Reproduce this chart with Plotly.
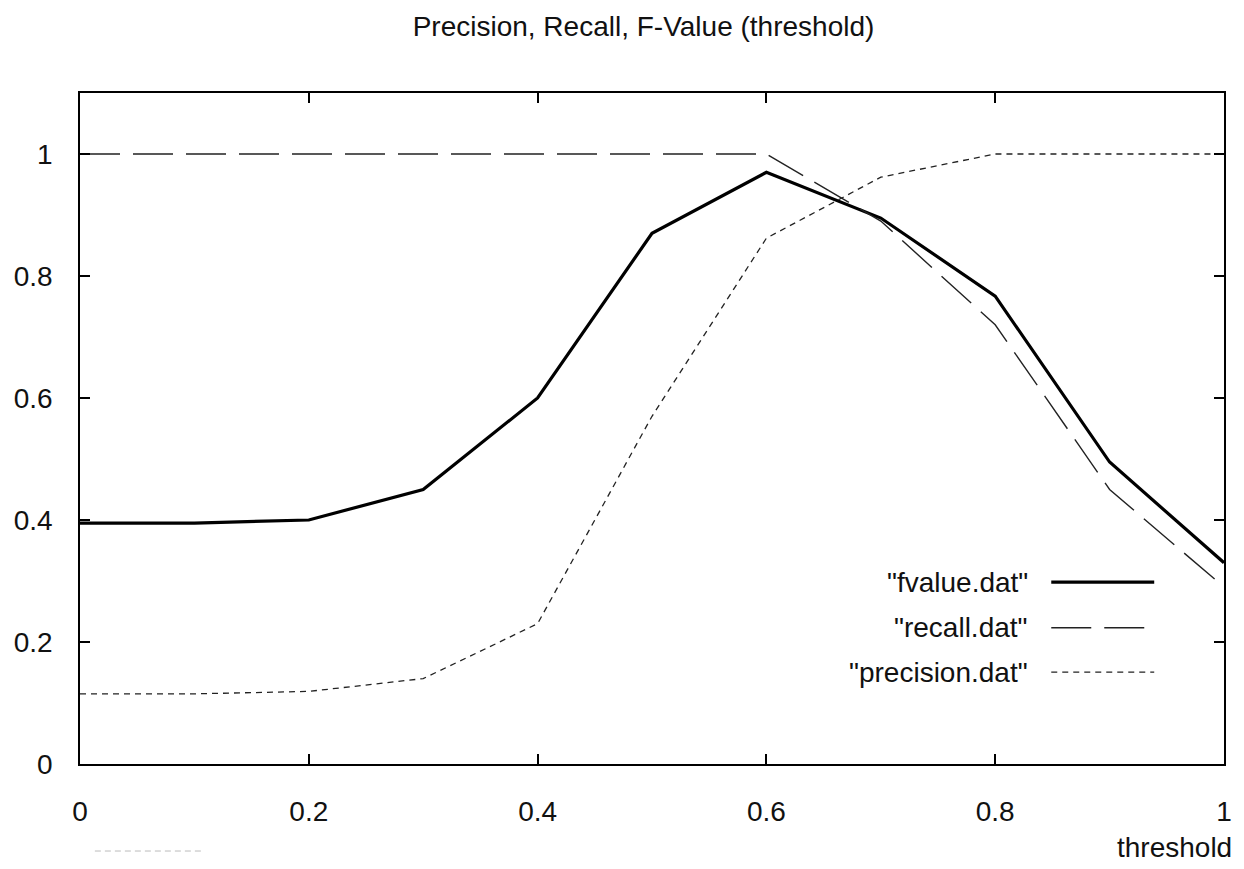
import plotly.graph_objects as go

threshold = [0.0, 0.1, 0.2, 0.3, 0.4, 0.5, 0.6, 0.7, 0.8, 0.9, 1.0]
fvalue = [0.395, 0.395, 0.40, 0.45, 0.60, 0.87, 0.97, 0.895, 0.767, 0.495, 0.33]
recall = [1.0, 1.0, 1.0, 1.0, 1.0, 1.0, 1.0, 0.89, 0.72, 0.45, 0.29]
precision = [0.115, 0.115, 0.119, 0.14, 0.23, 0.57, 0.862, 0.962, 1.0, 1.0, 1.0]

series_names = ['"fvalue.dat"', '"recall.dat"', '"precision.dat"']
x_ticks = [0, 0.2, 0.4, 0.6, 0.8, 1]
y_ticks = [0, 0.2, 0.4, 0.6, 0.8, 1]

FONT = "Liberation Sans, Arial, sans-serif"
FS = 28

styles = [
    dict(color="black", width=3.2, dash="solid"),
    dict(color="#222222", width=1.4, dash="40px,13px"),
    dict(color="#222222", width=1.3, dash="6px,5px"),
]

fig = go.Figure()
for name, ys, st in zip(series_names, [fvalue, recall, precision], styles):
    fig.add_trace(go.Scatter(x=threshold, y=ys, mode="lines", name=name,
                             line=st, showlegend=False))

# manual gnuplot-style legend (text right-aligned, sample to the right)
legend_rows = [0.271, 0.203, 0.137]
for name, yy, st in zip(series_names, legend_rows, styles):
    fig.add_annotation(x=0.830, y=yy, xref="paper", yref="paper", text=name,
                       showarrow=False, xanchor="right", yanchor="middle",
                       font=dict(family=FONT, size=FS, color="#111111"))
    fig.add_shape(type="line", xref="paper", yref="paper",
                  x0=0.849, x1=0.939, y0=yy, y1=yy, line=st)

# x-axis title placed gnuplot-style at bottom right
fig.add_annotation(x=1.0087, y=-0.1237, xref="paper", yref="paper", text="threshold",
                   showarrow=False, xanchor="right", yanchor="middle",
                   font=dict(family=FONT, size=FS, color="#111111"))

# faint artifact below the axis
fig.add_shape(type="line", xref="paper", yref="paper",
              x0=0.013, x1=0.106, y0=-0.1297, y1=-0.1297,
              line=dict(color="#bbbbbb", width=1, dash="6px,4px"))

fig.update_layout(
    width=1244, height=869,
    margin=dict(l=80, r=16, t=93, b=105),
    paper_bgcolor="white", plot_bgcolor="white",
    title=dict(text="Precision, Recall, F-Value (threshold)", x=643.5 / 1244, xanchor="center",
               y=1 - 26 / 869, yanchor="middle",
               font=dict(family=FONT, size=FS, color="#111111")),
    font=dict(family=FONT, size=FS, color="#111111"),
)
fig.update_xaxes(range=[0, 1], tickvals=x_ticks, ticktext=[f"{v:g}" for v in x_ticks],
                 showgrid=False, zeroline=False, showline=True, linecolor="black",
                 linewidth=1.5, mirror="ticks", ticks="inside", ticklen=10,
                 tickcolor="black", tickwidth=1.5, ticklabelstandoff=22,
                 tickfont=dict(family=FONT, size=FS))
fig.update_yaxes(range=[0, 1.1], tickvals=y_ticks, ticktext=[f"{v:g}" for v in y_ticks],
                 showgrid=False, zeroline=False, showline=True, linecolor="black",
                 linewidth=1.5, mirror="ticks", ticks="inside", ticklen=10,
                 tickcolor="black", tickwidth=1.5, ticklabelstandoff=20,
                 tickfont=dict(family=FONT, size=FS))

fig.write_html("out.html", config={"displayModeBar": False},
               post_script="document.body.style.margin='0';")
